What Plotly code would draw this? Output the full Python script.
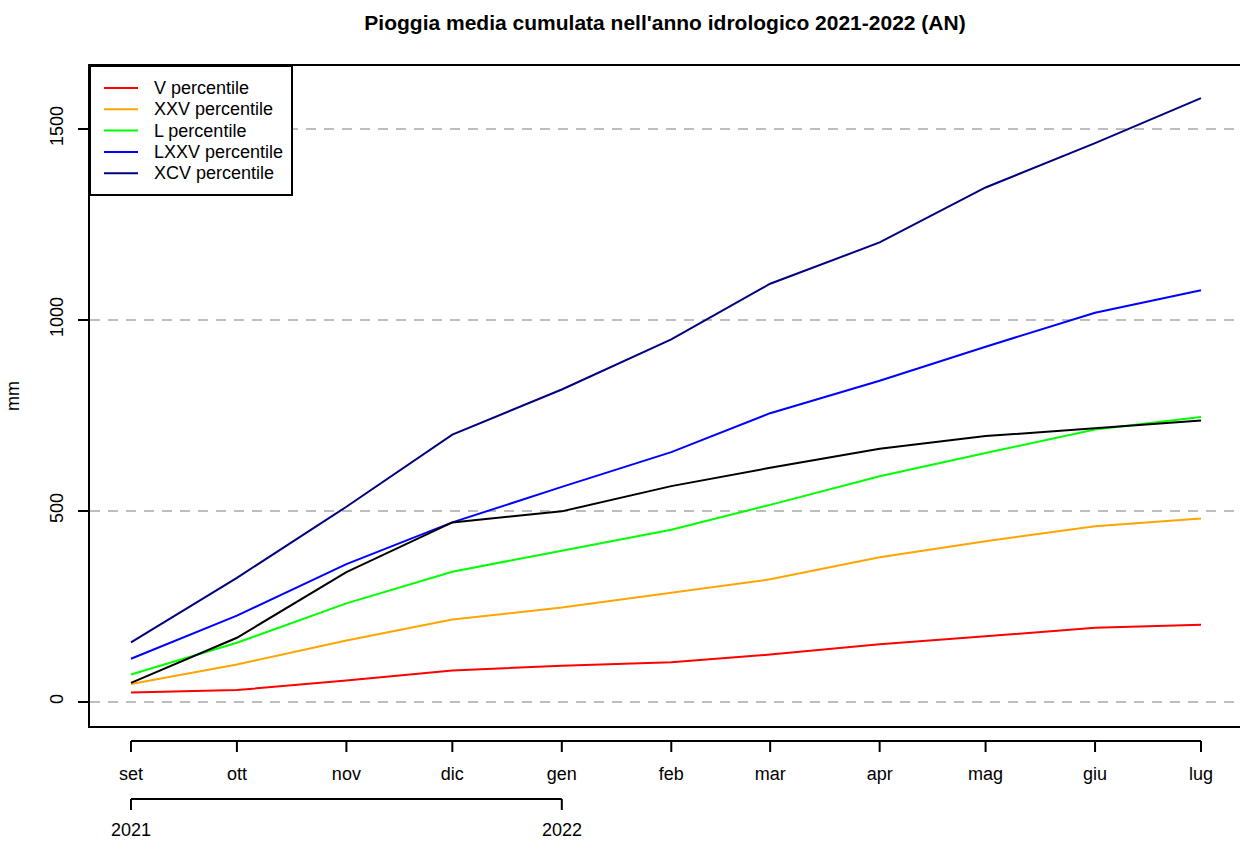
import plotly.graph_objects as go

# Monthly cumulative rainfall (mm), hydrological year 2021-2022
dates = ['2021-09-01', '2021-10-01', '2021-11-01', '2021-12-01', '2022-01-01',
         '2022-02-01', '2022-03-01', '2022-04-01', '2022-05-01', '2022-06-01',
         '2022-07-01']
month_labels = ['set', 'ott', 'nov', 'dic', 'gen', 'feb', 'mar', 'apr', 'mag', 'giu', 'lug']
year_labels = ['2021', '2022']
year_dates = ['2021-09-01', '2022-01-01']

p05 = [24, 30, 55, 81, 94, 103, 123, 150, 171, 193, 201]
p25 = [46, 97, 160, 215, 246, 284, 320, 378, 420, 459, 479]
p50 = [71, 154, 257, 340, 395, 450, 515, 590, 651, 712, 745]
p75 = [112, 225, 360, 469, 562, 653, 755, 840, 929, 1018, 1077]
p95 = [155, 324, 510, 699, 817, 948, 1094, 1202, 1346, 1462, 1580]
observed = [49, 167, 339, 469, 498, 564, 612, 662, 695, 716, 736]

series_names = ['V percentile', 'XXV percentile', 'L percentile',
                'LXXV percentile', 'XCV percentile']
series_values = [p05, p25, p50, p75, p95]
series_colors = ['#FF0000', '#FFA500', '#00FF00', '#0000FF', '#000080']

FONT = 'Liberation Sans, Arial, Helvetica, sans-serif'
FS = 18

fig = go.Figure()
for name, vals, col in zip(series_names, series_values, series_colors):
    fig.add_trace(go.Scatter(x=dates, y=vals, mode='lines', name=name,
                             showlegend=False, line=dict(color=col, width=2)))
fig.add_trace(go.Scatter(x=dates, y=observed, mode='lines', name='2021-2022',
                         showlegend=False, line=dict(color='black', width=2)))

# Plot frame spans pixels 90..1240 horizontally and 66..726 vertically
def py(pix):
    return (726 - pix) / 660.0

def px(pix):
    return (pix - 90) / 1150.0

# Detached date axis below the frame: baseline, month ticks, year bracket
shapes = [dict(type='line', xref='x', yref='paper', x0=dates[0], x1=dates[-1],
               y0=py(741), y1=py(741), line=dict(color='black', width=2))]
for d in dates:
    shapes.append(dict(type='line', xref='x', yref='paper', x0=d, x1=d,
                       y0=py(741), y1=py(752), line=dict(color='black', width=2)))
shapes.append(dict(type='line', xref='x', yref='paper', x0=year_dates[0], x1=year_dates[-1],
                   y0=py(799), y1=py(799), line=dict(color='black', width=2)))
for d in year_dates:
    shapes.append(dict(type='line', xref='x', yref='paper', x0=d, x1=d,
                       y0=py(799), y1=py(810), line=dict(color='black', width=2)))

annotations = []
for d, t in zip(year_dates, year_labels):
    annotations.append(dict(x=d, xref='x', y=py(830), yref='paper', text=t,
                            showarrow=False, xanchor='center', yanchor='middle',
                            font=dict(size=FS, color='black', family=FONT)))

# Legend box in the top-left corner of the frame
shapes.append(dict(type='rect', xref='paper', yref='paper',
                   x0=px(90), x1=px(292), y0=py(195), y1=py(66),
                   fillcolor='white', line=dict(color='black', width=2), layer='above'))
row0, row_step = 88, 21.3
for i, (name, col) in enumerate(zip(series_names, series_colors)):
    yy = py(row0 + i * row_step)
    shapes.append(dict(type='line', xref='paper', yref='paper',
                       x0=px(104), x1=px(138), y0=yy, y1=yy,
                       line=dict(color=col, width=2), layer='above'))
    annotations.append(dict(x=px(152), xref='paper', y=yy, yref='paper', text=name,
                            showarrow=False, xanchor='left', yanchor='middle',
                            font=dict(size=FS, color='black', family=FONT)))

fig.update_layout(
    width=1240, height=842,
    margin=dict(l=90, r=0, t=66, b=116),
    paper_bgcolor='white', plot_bgcolor='white',
    font=dict(family=FONT, size=FS, color='black'),
    title=dict(text="<b>Pioggia media cumulata nell'anno idrologico 2021-2022 (AN)</b>",
               x=0.5, xanchor='center', y=1 - 23 / 842, yanchor='middle',
               xref='paper', font=dict(size=21, family=FONT, color='black')),
    xaxis=dict(type='date', range=['2021-08-20 09:36', '2022-07-12 01:00'],
               tickvals=dates, ticktext=month_labels, ticks='', showgrid=False,
               showline=True, mirror=True, linecolor='black', linewidth=2,
               zeroline=False, ticklabelstandoff=30,
               tickfont=dict(size=FS, family=FONT, color='black')),
    yaxis=dict(range=[-64, 1664], tickvals=[0, 500, 1000, 1500],
               ticks='outside', ticklen=10, tickwidth=2, tickcolor='black',
               tickangle=-90, ticklabelstandoff=8,
               showline=True, mirror=False, linecolor='black', linewidth=2,
               showgrid=True, gridcolor='#BEBEBE', gridwidth=2, griddash='10px,8px',
               zeroline=False,
               title=dict(text='mm', standoff=22, font=dict(size=FS, family=FONT)),
               tickfont=dict(size=FS, family=FONT, color='black')),
    shapes=shapes,
    annotations=annotations,
    showlegend=False,
)

fig.write_html('out.html')
